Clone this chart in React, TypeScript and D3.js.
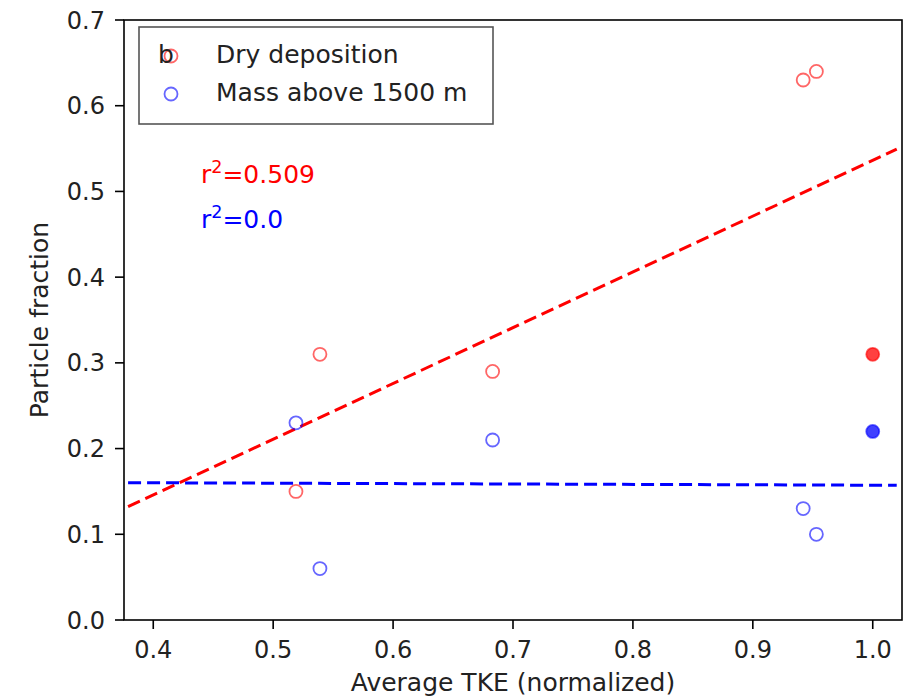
import React from "react";
import * as d3 from "d3";

const tkeValues = [0.519, 0.539, 0.683, 0.942, 0.953, 1.0];
const dryDeposition = [0.15, 0.31, 0.29, 0.63, 0.64, 0.31];
const massAbove1500 = [0.23, 0.06, 0.21, 0.13, 0.1, 0.22];
const filledFlags = [false, false, false, false, false, true];
const xTicks = [0.4, 0.5, 0.6, 0.7, 0.8, 0.9, 1.0];
const yTicks = [0.0, 0.1, 0.2, 0.3, 0.4, 0.5, 0.6, 0.7];
const seriesNames = ["Dry deposition", "Mass above 1500 m"];
const seriesColors = ["#ff0000", "#0000ff"];
const r2Labels = ["0.509", "0.0"];
const fitRange = [0.379, 1.02];
const panelLabel = "b";
const xLabel = "Average TKE (normalized)";
const yLabel = "Particle fraction";

const W = 908;
const H = 698;
const M = { left: 124, right: 902, top: 20, bottom: 620 };
const FONT = "DejaVu Sans, sans-serif";
const FS = 25;
const TFS = 24;

function fit(xs: number[], ys: number[]) {
  const mx = d3.mean(xs)!;
  const my = d3.mean(ys)!;
  let sxy = 0,
    sxx = 0;
  xs.forEach((x, i) => {
    sxy += (x - mx) * (ys[i] - my);
    sxx += (x - mx) * (x - mx);
  });
  const slope = sxy / sxx;
  return { slope, intercept: my - slope * mx };
}

export default function App() {
  const x = d3.scaleLinear().domain([0.3756, 1.0244]).range([M.left, M.right]);
  const y = d3.scaleLinear().domain([0, 0.7]).range([M.bottom, M.top]);
  const series = [dryDeposition, massAbove1500];
  const line = d3
    .line<[number, number]>()
    .x((d) => x(d[0]))
    .y((d) => y(d[1]));

  return (
    <svg
      width={W}
      height={H}
      style={{ position: "absolute", left: 0, top: 0, background: "#fff" }}
      fontFamily={FONT}
    >
      <rect x={0} y={0} width={W} height={H} fill="#fff" />
      {series.map((ys, si) => {
        const f = fit(tkeValues, ys);
        const pts: [number, number][] = fitRange.map((xv) => [xv, f.intercept + f.slope * xv]);
        return (
          <path
            key={"fit" + si}
            d={line(pts) || ""}
            fill="none"
            stroke={seriesColors[si]}
            strokeWidth={3}
            strokeDasharray="13,6"
          />
        );
      })}
      {series.map((ys, si) =>
        ys.map((v, i) => (
          <circle
            key={"p" + si + "-" + i}
            cx={x(tkeValues[i])}
            cy={y(v)}
            r={6.5}
            fill={filledFlags[i] ? seriesColors[si] : "none"}
            fillOpacity={filledFlags[i] ? 0.75 : 0}
            stroke={seriesColors[si]}
            strokeOpacity={0.6}
            strokeWidth={1.8}
          />
        ))
      )}
      <rect
        x={M.left}
        y={M.top}
        width={M.right - M.left}
        height={M.bottom - M.top}
        fill="none"
        stroke="#000"
        strokeWidth={1.6}
      />
      {xTicks.map((t) => (
        <g key={"xt" + t} transform={`translate(${x(t)},${M.bottom})`}>
          <line y1={0} y2={9} stroke="#000" strokeWidth={1.6} />
          <text y={38} textAnchor="middle" fontSize={TFS} fill="#222">
            {t.toFixed(1)}
          </text>
        </g>
      ))}
      {yTicks.map((t) => (
        <g key={"yt" + t} transform={`translate(${M.left},${y(t)})`}>
          <line x1={0} x2={-9} stroke="#000" strokeWidth={1.6} />
          <text x={-19} dy="0.36em" textAnchor="end" fontSize={TFS} fill="#222">
            {t.toFixed(1)}
          </text>
        </g>
      ))}
      <text x={(M.left + M.right) / 2} y={691} textAnchor="middle" fontSize={FS} fill="#222">
        {xLabel}
      </text>
      <text
        transform={`translate(48,${(M.top + M.bottom) / 2}) rotate(-90)`}
        textAnchor="middle"
        fontSize={FS}
        fill="#222"
      >
        {yLabel}
      </text>
      {r2Labels.map((lab, i) => (
        <text key={"r2" + i} x={201} y={183 + i * 45} fontSize={FS} fill={seriesColors[i]}>
          r
          <tspan fontSize={FS * 0.7} dy={-10}>
            2
          </tspan>
          <tspan dy={10}>{"=" + lab}</tspan>
        </text>
      ))}
      <rect x={139} y={27} width={354} height={97} fill="#fff" stroke="#555" strokeWidth={1.6} />
      {seriesNames.map((name, i) => (
        <g key={"lg" + i}>
          <circle
            cx={171}
            cy={56 + i * 38}
            r={6.5}
            fill="none"
            stroke={seriesColors[i]}
            strokeOpacity={0.6}
            strokeWidth={1.8}
          />
          <text x={216} y={63 + i * 38} fontSize={FS} fill="#222">
            {name}
          </text>
        </g>
      ))}
      <text x={158} y={63} fontSize={FS} fill="#222">
        {panelLabel}
      </text>
    </svg>
  );
}
